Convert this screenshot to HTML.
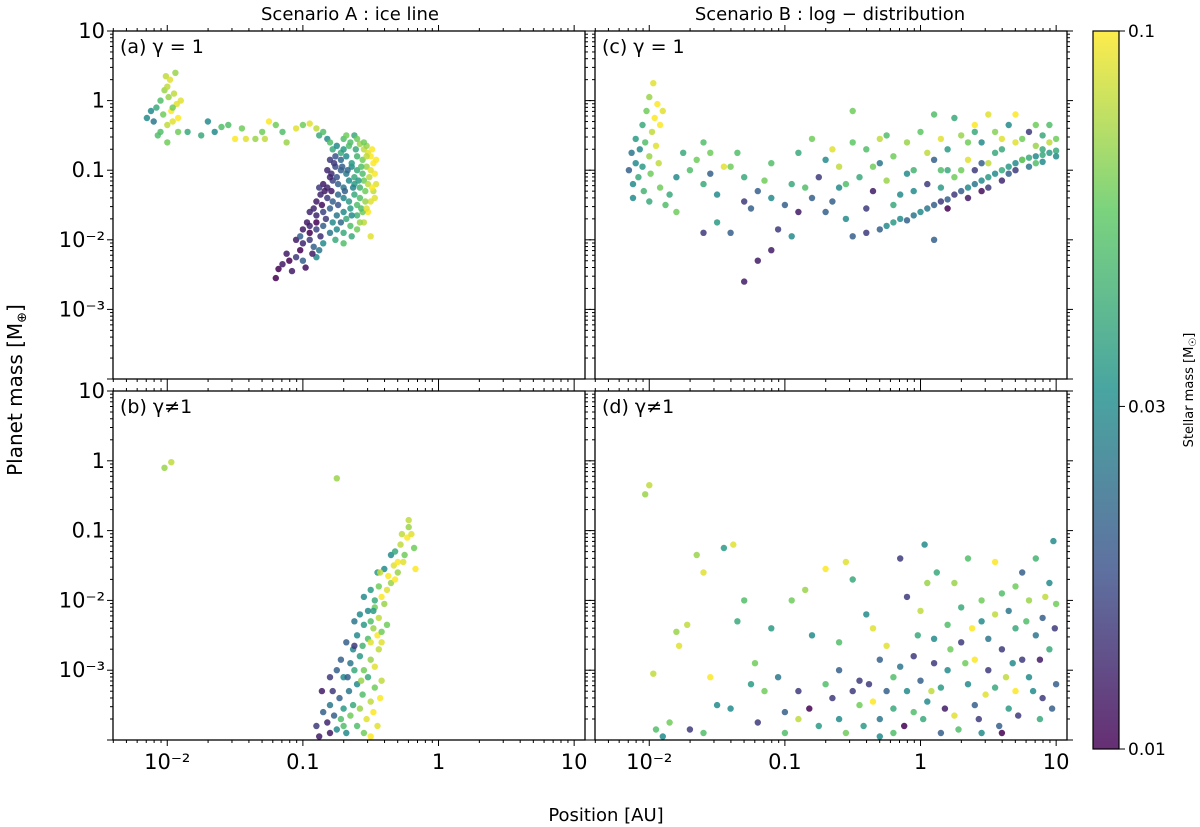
<!DOCTYPE html>
<html><head><meta charset="utf-8"><style>
html,body{margin:0;padding:0;background:#fff;}
svg{display:block;font-family:"DejaVu Sans","Liberation Sans",sans-serif;}
</style></head><body>
<svg id="fig" width="1200" height="827" viewBox="0 0 1200 827" xmlns="http://www.w3.org/2000/svg">
<defs>
<linearGradient id="vir" x1="0" y1="1" x2="0" y2="0">
<stop offset="0" stop-color="#440154"/><stop offset="0.25" stop-color="#3b528b"/><stop offset="0.5" stop-color="#21918c"/><stop offset="0.75" stop-color="#5ec962"/><stop offset="1" stop-color="#fde725"/>
</linearGradient>
</defs>
<text x="350" y="20" text-anchor="middle" font-size="18">Scenario A :  ice line</text>
<text x="830" y="20" text-anchor="middle" font-size="18">Scenario B :  log − distribution</text>
<text transform="translate(22,390) rotate(-90)" text-anchor="middle" font-size="20">Planet mass [M<tspan font-size="13" dy="4">⊕</tspan><tspan dy="-4">]</tspan></text>
<text x="606" y="821" text-anchor="middle" font-size="18">Position [AU]</text>
<g id="panels"></g>
<g id="cbar">
<rect x="1093" y="31" width="26" height="718" fill="url(#vir)" opacity="0.82" stroke="none"/>
<rect x="1093" y="31" width="26" height="718" fill="none" stroke="#000" stroke-width="1.2"/>
</g>
<text transform="translate(1193,390) rotate(-90)" text-anchor="middle" font-size="13">Stellar mass [M<tspan font-size="10" dy="3">☉</tspan><tspan dy="-3">]</tspan></text>
</svg>
<script>
// data: [log10 position AU, log10 planet mass, stellar mass Msun]
const panelAPoints=[[-2.15,-0.25,.03],[-2.12,-0.15,.03],[-2.1,-0.3,.025],[-2.08,-0.1,.04],[-2.05,-0.45,.05],[-2.05,0,.05],[-2.03,-0.2,.06],[-2.02,0.15,.07],[-2.01,0.35,.08],[-2.0,-0.6,.06],[-2.0,-0.35,.08],[-1.99,0.05,.07],[-1.98,0.3,.09],[-1.97,-0.15,.1],[-1.96,-0.3,.09],[-1.95,0.1,.08],[-1.94,0.4,.07],[-1.93,-0.05,.09],[-1.92,-0.25,.1],[-1.9,0,.09],[-1.92,-0.45,.06],[-2.07,-0.5,.05],[-1.96,-0.1,.06],[-2.0,0.2,.08],
[-1.85,-0.45,.04],[-1.75,-0.5,.04],[-1.65,-0.45,.03],[-1.6,-0.38,.05],[-1.55,-0.35,.05],[-1.45,-0.4,.06],[-1.42,-0.55,.09],[-1.35,-0.55,.07],[-1.3,-0.45,.06],[-1.28,-0.55,.08],[-1.2,-0.35,.06],[-1.15,-0.45,.05],[-1.12,-0.6,.07],[-1.25,-0.3,.1],[-1.05,-0.4,.09],[-1.0,-0.35,.06],[-0.95,-0.33,.09],[-0.9,-0.4,.08],[-1.5,-0.55,.1],[-1.7,-0.3,.03],
[-0.88,-0.5,.04],[-0.85,-0.45,.05],[-0.82,-0.55,.03],[-0.8,-0.6,.05],[-0.78,-0.7,.04],[-0.75,-0.65,.03],[-0.72,-0.75,.04],[-0.7,-0.55,.05],[-0.68,-0.5,.06],[-0.65,-0.6,.05],[-0.62,-0.5,.04],[-0.6,-0.55,.06],[-0.58,-0.62,.07],[-0.55,-0.7,.08],[-0.52,-0.75,.09],[-0.5,-0.8,.1],[-0.48,-0.9,.1],[-0.47,-1.05,.1],[-0.46,-1.2,.09],[-0.48,-1.3,.08],[-0.5,-1.45,.09],[-0.52,-1.6,.1],[-0.55,-1.75,.08],[-0.5,-1.95,.09],
[-1.2,-2.55,.01],[-1.18,-2.42,.01],[-1.15,-2.35,.012],[-1.12,-2.2,.012],[-1.1,-2.3,.01],[-1.05,-2.25,.015],[-1.02,-2.15,.01],[-1.0,-2.3,.02],
[-1.05,-2.0,.012],[-1.0,-2.05,.013],[-0.95,-2.0,.015],[-0.92,-2.1,.02],[-0.88,-2.15,.025],[-0.85,-2.05,.03],[-0.9,-2.25,.03],
[-1.0,-1.85,.012],[-0.95,-1.8,.013],[-0.9,-1.85,.016],[-0.85,-1.8,.02],[-0.8,-1.9,.025],[-0.75,-1.85,.03],[-0.7,-1.9,.04],[-0.65,-1.8,.05],
[-0.95,-1.6,.013],[-0.9,-1.65,.013],[-0.85,-1.6,.016],[-0.8,-1.55,.02],[-0.75,-1.65,.025],[-0.7,-1.6,.03],[-0.65,-1.55,.035],[-0.6,-1.65,.045],[-0.56,-1.6,.06],
[-0.9,-1.45,.012],[-0.87,-1.35,.013],[-0.82,-1.4,.015],[-0.78,-1.45,.02],[-0.74,-1.35,.022],[-0.7,-1.4,.028],[-0.66,-1.45,.035],[-0.62,-1.35,.04],[-0.58,-1.4,.05],[-0.54,-1.45,.07],
[-0.85,-1.2,.012],[-0.82,-1.25,.013],[-0.78,-1.15,.016],[-0.74,-1.2,.02],[-0.7,-1.25,.025],[-0.66,-1.15,.03],[-0.62,-1.2,.035],[-0.58,-1.25,.045],[-0.55,-1.15,.06],[-0.52,-1.2,.08],
[-0.82,-1.0,.013],[-0.79,-1.05,.014],[-0.76,-0.95,.017],[-0.72,-1.0,.02],[-0.68,-1.05,.026],[-0.64,-0.95,.03],[-0.6,-1.0,.04],[-0.56,-1.05,.05],[-0.53,-0.95,.07],[-0.5,-1.0,.09],
[-0.8,-0.85,.015],[-0.76,-0.8,.018],[-0.72,-0.85,.022],[-0.68,-0.8,.03],[-0.64,-0.9,.035],[-0.6,-0.8,.045],[-0.56,-0.85,.06],[-0.53,-0.8,.08],
[-1.02,-1.95,.02],[-0.97,-1.75,.012],[-0.92,-1.55,.013],[-0.88,-1.25,.015],[-0.78,-1.75,.03],[-0.68,-1.7,.04],[-0.6,-1.5,.05],[-0.62,-1.1,.04],[-0.7,-0.7,.035],[-0.75,-1.1,.018],
[-0.95,-1.9,.01],[-0.9,-1.75,.01],[-0.86,-1.5,.011],[-0.84,-1.3,.012],[-0.8,-1.1,.013],[-0.77,-0.9,.015],[-0.74,-1.5,.018],[-0.72,-1.75,.022],[-0.69,-1.3,.02],[-0.67,-1.0,.022],[-0.64,-1.65,.03],[-0.63,-1.25,.028],[-0.61,-0.7,.04],[-0.59,-1.15,.035],[-0.57,-1.55,.05],[-0.57,-0.95,.05],[-0.54,-1.3,.06],[-0.53,-0.65,.07],[-0.51,-1.1,.08],[-0.49,-1.25,.1],[-0.49,-0.7,.1],[-0.46,-0.85,.1],[-0.47,-1.4,.09],[-0.55,-0.6,.06],[-0.66,-0.65,.05],[-0.71,-0.95,.02],[-0.79,-1.3,.012],[-0.83,-1.7,.015],[-0.87,-1.95,.014],[-0.93,-2.2,.012],[-0.98,-2.4,.011],[-1.08,-2.45,.012],[-0.76,-2.0,.04],[-0.7,-2.05,.05],[-0.64,-1.95,.04],[-0.6,-1.85,.06],[-0.58,-1.75,.07],[-0.53,-1.55,.09]];
const panelBPoints=[[-2.02,-0.1,.07],[-1.97,-0.02,.08],[-0.75,-0.25,.07],
[-0.9,-3.8,.015],[-0.88,-3.95,.012],[-0.85,-3.6,.02],[-0.82,-3.75,.013],[-0.8,-3.5,.025],[-0.8,-3.9,.012],[-0.77,-3.65,.02],[-0.75,-3.85,.03],[-0.73,-3.4,.02],[-0.72,-3.7,.05],[-0.7,-3.55,.035],[-0.68,-3.9,.03],[-0.66,-3.3,.025],[-0.65,-3.65,.06],[-0.63,-3.5,.04],[-0.6,-3.8,.05],[-0.6,-3.2,.03],[-0.58,-3.55,.07],[-0.56,-3.35,.05],[-0.55,-3.9,.06],[-0.53,-3.7,.09],[-0.52,-3.1,.04],[-0.5,-3.45,.08],[-0.48,-3.6,.1],[-0.47,-3.25,.06],[-0.45,-3.8,.09],[-0.43,-3.4,.1],[-0.42,-3.15,.08],
[-0.8,-3.1,.015],[-0.75,-3.0,.02],[-0.7,-3.1,.03],[-0.72,-2.85,.02],[-0.65,-2.9,.025],[-0.62,-3.0,.04],[-0.58,-2.8,.035],[-0.55,-3.0,.06],[-0.5,-2.85,.07],[-0.47,-2.95,.09],[-0.44,-2.7,.08],[-0.68,-2.6,.02],[-0.63,-2.7,.03],[-0.6,-2.5,.03],[-0.56,-2.65,.045],[-0.52,-2.55,.05],[-0.48,-2.4,.07],[-0.45,-2.5,.1],[-0.42,-2.6,.09],[-0.62,-2.3,.025],[-0.58,-2.2,.03],[-0.55,-2.35,.035],[-0.52,-2.15,.03],[-0.5,-2.3,.05],[-0.47,-2.1,.06],[-0.44,-2.25,.08],[-0.4,-2.05,.07],[-0.38,-2.35,.06],
[-0.55,-1.95,.03],[-0.5,-1.85,.035],[-0.47,-2.0,.04],[-0.44,-1.8,.06],[-0.42,-1.95,.1],[-0.38,-1.85,.09],[-0.35,-1.75,.07],[-0.45,-1.6,.035],[-0.4,-1.55,.03],[-0.37,-1.65,.1],[-0.33,-1.5,.09],[-0.3,-1.6,.07],[-0.35,-1.35,.03],[-0.32,-1.3,.04],[-0.3,-1.45,.1],[-0.28,-1.2,.08],[-0.25,-1.35,.06],[-0.27,-1.05,.08],[-0.23,-1.1,.1],[-0.22,-0.95,.07],[-0.2,-1.05,.09],[-0.22,-0.85,.08],[-0.18,-1.25,.06],[-0.17,-1.55,.1],
[-0.78,-3.3,.015],[-0.67,-3.1,.02],[-0.57,-3.15,.07],[-0.62,-2.65,.015],[-0.5,-2.6,.09],[-0.42,-2.45,.06],[-0.48,-2.15,.035],[-0.43,-1.6,.08],[-0.32,-1.7,.1],[-0.26,-1.45,.09],[-0.86,-3.3,.012],[-0.7,-3.8,.05],[-0.5,-3.95,.1]];
const panelCPoints=[[-2.15,-1.0,.02],[-2.13,-0.75,.025],[-2.12,-1.2,.03],[-2.1,-0.9,.03],[-2.1,-0.55,.035],[-2.08,-1.1,.04],[-2.07,-0.7,.03],[-2.05,-0.35,.04],[-2.05,-0.95,.035],[-2.04,-1.3,.045],[-2.03,-0.6,.05],[-2.02,-0.15,.06],[-2.0,-0.8,.07],[-2.0,0.05,.07],[-1.99,-1.05,.06],[-1.98,-0.45,.08],[-1.97,0.25,.09],[-1.96,-0.25,.1],[-1.95,-0.65,.09],[-1.94,-0.05,.1],[-1.93,-0.9,.08],[-1.92,-0.35,.1],[-1.92,-1.25,.06],[-1.9,-0.15,.09],[-2.12,-1.4,.03],[-1.88,-1.5,.05],[-1.85,-1.35,.04],[-1.8,-1.6,.06],[-2.0,-1.45,.04],
[-0.5,-1.95,.02],[-0.4,-1.9,.015],[-0.3,-1.85,.02],[-0.25,-1.8,.03],[-0.2,-1.75,.035],[-0.15,-1.7,.03],[-0.1,-1.72,.02],[-0.05,-1.65,.025],[0.0,-1.6,.03],[0.05,-1.55,.025],[0.1,-1.5,.02],[0.15,-1.45,.015],[0.2,-1.42,.02],[0.25,-1.35,.015],[0.3,-1.3,.02],[0.35,-1.25,.03],[0.4,-1.2,.025],[0.45,-1.15,.03],[0.5,-1.1,.035],[0.55,-1.05,.03],[0.6,-1.0,.04],[0.65,-0.95,.035],[0.7,-0.9,.03],[0.75,-0.85,.035],[0.8,-0.82,.04],[0.85,-0.8,.03],[0.9,-0.78,.04],[0.95,-0.75,.035],[1.0,-0.72,.04],[0.2,-1.55,.01],[0.35,-1.4,.012],[0.5,-1.25,.015],[0.65,-1.05,.02],[0.8,-0.95,.025],[0.9,-0.88,.03],[0.45,-1.3,.011],[0.6,-1.15,.013],
[-1.7,-1.0,.05],[-1.65,-0.85,.06],[-1.6,-1.2,.04],[-1.55,-1.05,.02],[-1.5,-1.35,.03],[-1.45,-0.95,.09],[-1.4,-0.95,.06],[-1.35,-0.75,.05],[-1.3,-1.45,.015],[-1.25,-1.55,.02],[-1.2,-1.3,.02],[-1.15,-1.15,.06],[-1.1,-1.4,.03],[-1.05,-1.85,.015],[-1.0,-1.5,.02],[-0.95,-1.95,.03],[-0.9,-1.6,.012],[-1.1,-2.15,.012],[-1.2,-2.3,.012],[-1.3,-2.6,.012],[-1.4,-1.9,.02],[-1.5,-1.75,.035],[-1.6,-1.9,.015],[-0.9,-0.75,.04],[-0.85,-1.25,.05],[-0.8,-0.55,.06],[-0.75,-1.1,.015],[-0.7,-0.85,.03],[-0.65,-1.45,.02],[-0.6,-0.95,.08],[-0.55,-1.7,.03],[-0.5,-0.6,.055],[-0.45,-1.1,.04],[-0.4,-0.7,.05],[-0.35,-1.3,.012],[-0.3,-0.9,.025],[-0.25,-1.15,.07],[-0.2,-0.8,.06],[-0.15,-1.35,.03],[-0.1,-0.6,.07],[-0.05,-1.0,.045],[0.0,-0.45,.055],[0.05,-1.2,.015],[0.1,-0.85,.02],[0.1,-2.0,.02],[0.15,-1.0,.05],[0.2,-0.7,.035],[0.25,-1.1,.06],[0.3,-0.5,.07],[0.35,-0.85,.09],[0.4,-1.0,.015],[0.45,-0.6,.03],[0.5,-0.9,.08],[0.55,-0.45,.065],[0.6,-0.7,.04],[0.65,-0.35,.03],[0.7,-0.6,.09],[0.75,-0.85,.06],[0.8,-0.45,.015],[0.85,-0.65,.07],[0.9,-0.5,.04],[1.0,-0.55,.06],[0.95,-0.35,.05],[-0.5,-0.15,.06],[0.1,-0.2,.05],[0.4,-0.35,.1],[0.25,-0.25,.04],[-0.3,-0.55,.08],[-0.7,-1.6,.02],[-1.6,-0.6,.05],[-1.75,-0.75,.04],[-1.8,-1.1,.03],[0.5,-0.2,.09],[0.7,-0.2,.1],[0.85,-0.35,.06],[0.15,-1.25,.035],[-0.05,-1.3,.03],[-0.55,-1.2,.05],[-0.2,-1.5,.04],[0.3,-1.0,.06],
[-0.8,-1.4,.02],[-0.6,-1.25,.03],[-0.4,-1.55,.015],[-0.35,-0.95,.06],[-0.1,-1.05,.03],[0.05,-0.75,.08],[0.2,-1.0,.04],[0.35,-0.6,.06],[0.45,-0.9,.02],[0.55,-0.75,.04],[0.6,-0.55,.09],[0.7,-1.0,.015],[0.75,-0.55,.06],[0.85,-0.9,.05],[0.95,-0.6,.08],[1.0,-0.8,.03],[0.9,-0.7,.04],[-1.3,-1.1,.04],[-1.1,-0.9,.05],[-0.95,-1.2,.04],[-1.55,-0.75,.06],[-0.25,-0.5,.05],[0.15,-0.55,.09],[0.4,-0.45,.04],[-0.65,-0.7,.09]];
const panelDPoints=[[-2.03,-0.48,.07],[-2.0,-0.35,.08],
[-1.97,-3.05,.08],[-1.95,-3.85,.05],[-1.9,-3.95,.03],[-1.85,-3.75,.06],[-1.8,-2.45,.07],[-1.78,-2.65,.09],[-1.72,-2.35,.08],[-1.7,-3.85,.015],[-1.65,-1.35,.07],[-1.6,-1.6,.09],[-1.55,-3.1,.1],[-1.5,-3.5,.03],[-1.45,-1.25,.035],[-1.4,-3.55,.03],[-1.38,-1.2,.09],[-1.35,-2.3,.04],[-1.3,-2.0,.05],[-1.25,-3.2,.035],[-1.22,-2.9,.06],[-1.2,-3.75,.015],[-1.15,-3.3,.06],[-1.1,-2.4,.035],[-1.05,-3.1,.025],[-1.0,-3.6,.02],[-0.95,-2.0,.06],[-0.9,-3.3,.015],[-0.85,-1.85,.07],[-0.82,-3.55,.01],[-0.8,-2.5,.03],[-0.75,-3.8,.035],[-0.7,-1.55,.1],[-0.65,-3.4,.015],[-0.6,-3.0,.02],[-0.6,-3.7,.03],[-0.55,-1.45,.09],[-0.5,-1.7,.04],[-0.5,-3.3,.015],[-0.45,-3.15,.015],[-0.45,-3.5,.06],[-0.42,-3.8,.035],[-0.4,-2.2,.03],[-0.35,-3.45,.1],[-0.3,-2.85,.02],[-0.3,-3.7,.025],[-0.25,-2.65,.09],[-0.2,-3.1,.05],[-0.2,-3.55,.04],[-0.15,-1.4,.015],[-0.15,-2.95,.025],[-0.1,-3.3,.03],[-0.1,-1.95,.015],[-0.05,-3.6,.05],[-0.05,-2.8,.015],[0.0,-3.15,.02],[0.0,-2.15,.08],[0.03,-1.2,.03],[0.05,-1.75,.07],[0.05,-3.45,.03],[0.1,-2.55,.03],[0.1,-2.9,.015],[0.12,-1.6,.04],[0.15,-3.25,.035],[0.2,-3.0,.03],[0.2,-2.35,.05],[0.25,-3.65,.09],[0.25,-1.75,.07],[0.3,-2.6,.015],[0.3,-2.1,.04],[0.35,-3.2,.03],[0.35,-1.4,.05],[0.4,-2.85,.1],[0.4,-3.5,.02],[0.45,-2.0,.06],[0.45,-2.3,.03],[0.5,-3.0,.015],[0.5,-2.55,.025],[0.55,-1.45,.1],[0.55,-3.25,.04],[0.6,-1.9,.05],[0.6,-2.7,.015],[0.65,-2.15,.025],[0.65,-3.55,.035],[0.7,-1.8,.06],[0.7,-2.4,.04],[0.75,-2.85,.015],[0.75,-1.6,.02],[0.8,-3.1,.03],[0.8,-2.0,.07],[0.85,-1.4,.045],[0.85,-2.5,.025],[0.9,-2.25,.02],[0.9,-3.4,.015],[0.95,-1.75,.03],[0.95,-2.7,.04],[0.98,-1.15,.03],[1.0,-2.05,.06],[1.0,-3.2,.02],[-1.6,-3.9,.05],[0.15,-3.9,.02],[0.6,-3.9,.01],[-0.2,-3.9,.05],
[-1.0,-3.9,.05],[-0.9,-3.7,.08],[-0.7,-3.2,.05],[-0.55,-3.9,.06],[-0.38,-3.2,.015],[-0.25,-3.3,.02],[-0.12,-3.8,.01],[0.02,-3.7,.04],[0.08,-3.3,.08],[0.18,-3.55,.012],[0.28,-3.85,.05],[0.33,-2.9,.06],[0.43,-3.7,.015],[0.48,-3.35,.09],[0.58,-3.8,.02],[0.63,-3.1,.08],[0.68,-2.9,.03],[0.72,-3.65,.015],[0.78,-2.3,.05],[0.83,-3.3,.03],[0.88,-2.85,.012],[0.92,-1.95,.08],[0.97,-3.55,.02],[0.99,-2.4,.015],[0.55,-2.2,.08],[0.38,-2.4,.1],[0.22,-2.7,.06],[-0.02,-2.5,.04],[-0.35,-2.4,.09],[-0.6,-2.6,.05],[0.7,-3.3,.1],[0.88,-3.7,.04],[0.45,-3.9,.03],[-0.3,-3.95,.03]];
const xTickDecades=[-2,-1,0,1];
const xTickLabels=["10\u207B\u00B2","0.1","1","10"];
const yTickDecades=[1,0,-1,-2,-3];
const yTickLabels=["10","1","0.1","10\u207B\u00B2","10\u207B\u00B3"];
const cbarTicks=[0.1,0.03,0.01];
const cbarTickLabels=["0.1","0.03","0.01"];
const panelLabels=["(a) γ = 1","(b) γ≠1","(c) γ = 1","(d) γ≠1"];

const NS="http://www.w3.org/2000/svg";
const XMIN=-2.4,XMAX=1.08,YMIN=-4,YMAX=1;
const stops=[[0,[68,1,84]],[0.25,[59,82,139]],[0.5,[33,145,140]],[0.75,[94,201,98]],[1,[253,231,37]]];
function viridis(t){t=Math.max(0,Math.min(1,t));for(let i=1;i<stops.length;i++){if(t<=stops[i][0]){const a=stops[i-1],b=stops[i];const f=(t-a[0])/(b[0]-a[0]);const c=a[1].map((v,k)=>Math.round(v+(b[1][k]-v)*f));return `rgb(${c[0]},${c[1]},${c[2]})`;}}return "rgb(253,231,37)";}
function mk(tag,attrs,parent){const e=document.createElementNS(NS,tag);for(const k in attrs)e.setAttribute(k,attrs[k]);parent.appendChild(e);return e;}
const root=document.getElementById('panels');
const boxes=[{x0:113,x1:585,y0:31,y1:379,data:panelAPoints,bottom:false,name:'panel-a'},{x0:113,x1:585,y0:391,y1:740,data:panelBPoints,bottom:true,name:'panel-b'},{x0:595,x1:1067,y0:31,y1:379,data:panelCPoints,bottom:false,name:'panel-c'},{x0:595,x1:1067,y0:391,y1:740,data:panelDPoints,bottom:true,name:'panel-d'}];
boxes.forEach((b,bi)=>{
  const g=mk('g',{},root);
  
  
  const sx=v=>b.x0+(v-XMIN)/(XMAX-XMIN)*(b.x1-b.x0);
  const sy=v=>b.y1-(v-YMIN)/(YMAX-YMIN)*(b.y1-b.y0);
  const pts=mk('g',{},g);
  
  
  b.data.forEach(p=>{
    if(p[1]<YMIN-0.05)return;
    const t=Math.log10(p[2]/0.01);
    const c=mk('circle',{cx:sx(p[0]).toFixed(1),cy:sy(p[1]).toFixed(1),r:3.2,fill:viridis(t),'fill-opacity':0.85},pts);
    
    
  });
  const fr=mk('rect',{x:b.x0,y:b.y0,width:b.x1-b.x0,height:b.y1-b.y0,fill:'none',stroke:'#000','stroke-width':1.3},g);
  
  
  const tk=mk('g',{stroke:'#000','stroke-width':1},g);
  
  
  for(let d=-3;d<=1;d++){for(let m=1;m<10;m++){const v=d+Math.log10(m);if(v<XMIN||v>XMAX)continue;const x=sx(v);const L=m===1?6:3;
    mk('line',{x1:x,x2:x,y1:b.y1,y2:b.y1+L},tk);mk('line',{x1:x,x2:x,y1:b.y0,y2:b.y0-L},tk);}}
  for(let d=-4;d<=1;d++){for(let m=1;m<10;m++){const v=d+Math.log10(m);if(v<YMIN||v>YMAX)continue;const y=sy(v);const L=m===1?6:3;
    mk('line',{x1:b.x0,x2:b.x0-L,y1:y,y2:y},tk);mk('line',{x1:b.x1,x2:b.x1+L,y1:y,y2:y},tk);}}
  if(bi<2){yTickDecades.forEach((d,i)=>{const t=mk('text',{x:b.x0-8,y:sy(d)+7,'text-anchor':'end','font-size':21},g);t.textContent=yTickLabels[i];
    
    });}
  if(b.bottom){xTickDecades.forEach((d,i)=>{const t=mk('text',{x:sx(d),y:769,'text-anchor':'middle','font-size':21},g);t.textContent=xTickLabels[i];
    
    });}
  const pl=mk('text',{x:b.x0+7,y:b.y0+22,'font-size':19},g);pl.textContent=panelLabels[bi];
  
  
});
const cb=document.getElementById('cbar');
cbarTicks.forEach((v,i)=>{const y=749-Math.log10(v/0.01)*718;
  mk('line',{x1:1119,x2:1125,y1:y,y2:y,stroke:'#000'},cb);
  const t=mk('text',{x:1128,y:y+6,'font-size':17},cb);t.textContent=cbarTickLabels[i];
  
  });
</script>
</body></html>
